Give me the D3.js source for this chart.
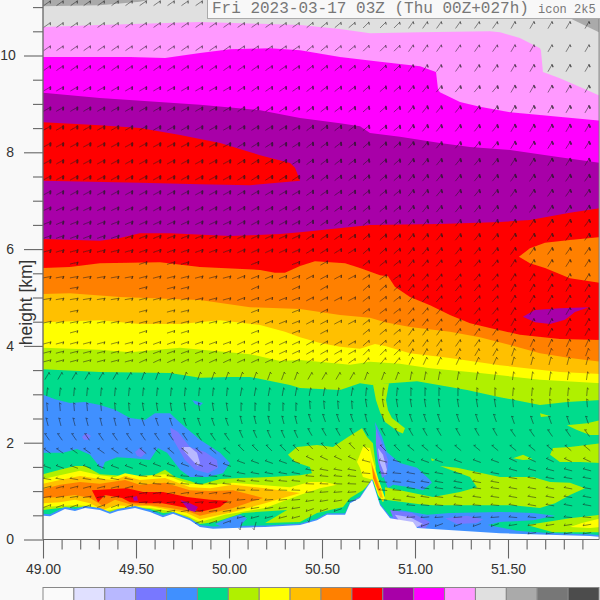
<!DOCTYPE html>
<html>
<head>
<meta charset="utf-8">
<style>
html,body{margin:0;padding:0;background:#f9f9f9;overflow:hidden}
svg{display:block}
</style>
<script src="https://cdn.jsdelivr.net/npm/d3@7"></script>
</head>
<body>
<svg id="chart" width="600" height="600"></svg>
<script>
// ---------- Text ----------
const titleMain = "Fri 2023-03-17 03Z (Thu 00Z+027h)";
const titleModel = "icon 2k5";
const yAxisLabel = "height [km]";

// ---------- Axis ticks ----------
const xMajorTicks = [49, 49.5, 50, 50.5, 51, 51.5];
const xMinorTicks = [49.1,49.2,49.3,49.4,49.6,49.7,49.8,49.9,50.1,50.2,50.3,50.4,50.6,50.7,50.8,50.9,51.1,51.2,51.3,51.4,51.6,51.7,51.8,51.9];
const yMajorTicks = [0, 2, 4, 6, 8, 10];
const yMinorTicks = [0.5,1,1.5,2.5,3,3.5,4.5,5,5.5,6.5,7,7.5,8.5,9,9.5,10.5,11];

// ---------- Colour classes ----------
const levelColors = ["#fafafa","#e0e0ff","#b8b8ff","#7878ff","#4090ff","#00dc8c","#b0f000","#ffff00","#ffc000","#ff8000","#ff0000","#a800a8","#ff00ff","#ff99ff","#e0e0e0","#aaaaaa","#777777","#4c4c4c"];
const cWhite=levelColors[0], cPale=levelColors[1], cLilac=levelColors[2], cPeri=levelColors[3], cBlue=levelColors[4], cGreen=levelColors[5], cLime=levelColors[6], cYellow=levelColors[7], cAmber=levelColors[8], cOrange=levelColors[9], cRed=levelColors[10], cPurple=levelColors[11], cMagenta=levelColors[12], cPink=levelColors[13], cLightGray=levelColors[14], cGray=levelColors[15];

// ---------- Contour boundaries: [longitude, height km]; each class fills from its boundary downward ----------
const lightGrayTop = [[49,11.02],[49.306,11.04],[49.521,11.11],[49.7,11.25],[51.78,11.25],[51.833,10.77],[52,10.46]];
const pinkTop = [[49,10.59],[49.306,10.63],[49.844,10.69],[50.382,10.63],[50.597,10.55],[50.758,10.46],[51.027,10.48],[51.403,10.50],[51.457,10.48],[51.564,10.36],[51.672,10.15],[51.677,10.11],[51.688,9.66],[51.779,9.53],[51.887,9.35],[52,9.16]];
const magentaTop = [[49,9.97],[49.468,9.97],[49.656,9.95],[49.844,10.05],[50.005,10.13],[50.220,10.15],[50.382,10.11],[50.597,9.97],[50.812,9.87],[51.027,9.78],[51.113,9.66],[51.124,9.29],[51.134,9.24],[51.242,9.04],[51.349,8.94],[51.511,8.83],[51.672,8.77],[52,8.65]];
const purpleTop = [[49,9.23],[49.306,9.12],[49.844,8.98],[50.167,8.87],[50.382,8.71],[50.597,8.60],[50.704,8.54],[50.758,8.40],[50.919,8.32],[51.134,8.19],[51.296,8.11],[51.511,8.05],[51.779,7.90],[52,7.78]];
const redTop = [[49,6.21],[49.306,6.17],[49.414,6.23],[49.521,6.33],[49.683,6.33],[50.005,6.27],[50.274,6.31],[50.382,6.35],[50.758,6.50],[51.134,6.52],[51.457,6.56],[51.618,6.60],[51.833,6.75],[52,6.85]];
const orangeTop = [[49,5.61],[49.145,5.63],[49.306,5.71],[49.629,5.73],[49.844,5.63],[50.167,5.57],[50.247,5.51],[50.301,5.51],[50.382,5.65],[50.462,5.75],[50.624,5.71],[50.704,5.61],[50.812,5.46],[50.855,5.44],[50.892,5.22],[50.973,5.01],[51.081,4.84],[51.188,4.64],[51.296,4.47],[51.403,4.37],[51.564,4.23],[51.779,4.14],[52,4.12]];
const amberTop = [[49,5.07],[49.145,5.09],[49.414,5.01],[49.844,4.95],[50.113,4.80],[50.382,4.76],[50.597,4.64],[50.758,4.58],[50.839,4.49],[50.973,4.39],[51.188,4.29],[51.349,4.18],[51.511,4.02],[51.672,3.85],[51.833,3.75],[52,3.67]];
const yellowTop = [[49,4.49],[49.306,4.53],[49.521,4.45],[49.737,4.45],[49.952,4.53],[50.167,4.43],[50.301,4.29],[50.382,4.18],[50.489,4.06],[50.597,3.98],[50.704,3.94],[50.785,4.04],[50.839,4.00],[50.973,3.85],[51.188,3.75],[51.457,3.60],[51.779,3.46],[52,3.42]];
const limeTop = [[49,3.96],[49.306,3.92],[49.468,3.87],[49.737,3.96],[50.113,3.83],[50.274,3.69],[50.382,3.71],[50.651,3.61],[50.758,3.67],[50.919,3.63],[51.081,3.54],[51.349,3.44],[51.672,3.30],[52,3.23]];
const greenTop = [[49,3.52],[49.306,3.46],[49.683,3.44],[49.844,3.34],[50.005,3.36],[50.113,3.36],[50.328,3.19],[50.382,3.13],[50.597,3.09],[50.704,3.23],[50.769,3.19],[50.866,3.23],[51.011,3.27],[51.188,3.15],[51.280,3.09],[51.457,2.94],[51.672,2.78],[51.817,2.84],[52,2.88]];

// ---------- Closed patches: [longitude, height km] ----------
const redUpper = [[49,8.62],[49.306,8.56],[49.521,8.50],[49.737,8.36],[49.952,8.19],[50.167,7.94],[50.328,7.78],[50.355,7.68],[50.382,7.41],[50.113,7.32],[49.844,7.34],[49.521,7.37],[49,7.41]];
const orangeRight = [[51.559,5.84],[51.618,6.02],[51.699,6.13],[51.833,6.19],[52,6.25],[52,5.30],[51.833,5.40],[51.699,5.61],[51.618,5.71]];
const purpleRight = [[51.580,4.60],[51.645,4.74],[51.779,4.78],[51.935,4.80],[51.860,4.70],[51.833,4.62],[51.806,4.54],[51.726,4.45],[51.645,4.49]];
const limeSpur = [[50.774,3.21],[50.790,2.88],[50.812,2.63],[50.839,2.43],[50.909,2.23],[50.935,2.19],[50.946,2.30],[50.876,2.51],[50.855,2.67],[50.844,2.88],[50.860,3.23]];

const blueLeft = [[49,2.99],[49.065,2.90],[49.145,2.82],[49.226,2.84],[49.306,2.78],[49.387,2.68],[49.468,2.51],[49.548,2.47],[49.602,2.61],[49.683,2.61],[49.737,2.41],[49.844,2.06],[49.952,1.79],[50.005,1.58],[49.968,1.37],[49.882,1.29],[49.790,1.29],[49.737,1.44],[49.667,1.79],[49.618,1.89],[49.575,1.64],[49.484,1.68],[49.398,1.70],[49.333,1.60],[49.317,1.44],[49.306,1.50],[49.253,1.75],[49.183,1.87],[49.108,1.79],[49,1.79]];
const blueSpot = [[49.801,2.88],[49.860,2.82],[49.844,2.76],[49.817,2.80]];
const periLeft = [[49.683,2.32],[49.726,2.22],[49.790,1.91],[49.871,1.81],[49.935,1.64],[49.941,1.48],[49.887,1.37],[49.817,1.44],[49.763,1.64],[49.726,1.89],[49.694,2.10]];
const lilacLeft = [[49.747,1.91],[49.790,1.91],[49.828,1.79],[49.844,1.58],[49.833,1.52],[49.801,1.64],[49.763,1.81]];
const periSpotA = [[49.210,2.12],[49.231,2.20],[49.258,2.14],[49.242,2.06],[49.220,2.06]];
const periSpotB = [[49.495,1.81],[49.521,1.89],[49.554,1.79],[49.527,1.70],[49.505,1.73]];

const limeJet = [[49,1.35],[49.091,1.44],[49.172,1.52],[49.226,1.52],[49.306,1.35],[49.387,1.33],[49.468,1.29],[49.575,1.29],[49.656,1.44],[49.710,1.29],[49.790,1.21],[49.844,1.13],[49.952,1.25],[50.059,1.27],[50.220,1.29],[50.382,1.33],[50.446,1.37],[50.435,1.50],[50.355,1.60],[50.317,1.75],[50.366,1.91],[50.473,1.95],[50.559,1.91],[50.640,2.12],[50.715,2.30],[50.742,2.12],[50.774,1.99],[50.790,1.50],[50.769,1.21],[50.720,1.02],[50.651,0.86],[50.613,0.67],[50.473,0.55],[50.382,0.36],[50.194,0.34],[50.312,0.61],[50.075,0.55],[49.925,0.36],[49.844,0.32],[49.774,0.44],[49.699,0.57],[49.645,0.55],[49.575,0.63],[49.468,0.65],[49.387,0.59],[49.323,0.55],[49.253,0.65],[49.172,0.67],[49.091,0.65],[49,0.61]];
const yellowJet = [[49,1.25],[49.091,1.33],[49.199,1.42],[49.306,1.33],[49.387,1.29],[49.441,1.37],[49.521,1.31],[49.656,1.35],[49.726,1.23],[49.790,1.15],[49.898,1.13],[50.022,1.17],[50.328,1.08],[50.435,1.19],[50.516,1.19],[50.581,1.13],[50.489,1.06],[50.382,0.92],[50.194,0.65],[49.978,0.51],[49.844,0.36],[49.774,0.49],[49.683,0.59],[49.575,0.65],[49.468,0.67],[49.387,0.63],[49.323,0.57],[49.253,0.69],[49.172,0.71],[49.091,0.69],[49,0.67]];
const amberJet = [[49,1.15],[49.091,1.23],[49.199,1.31],[49.306,1.25],[49.387,1.23],[49.441,1.31],[49.521,1.23],[49.656,1.27],[49.790,1.08],[49.898,1.06],[50.022,1.13],[50.194,1.06],[50.382,0.96],[50.194,0.75],[50.022,0.57],[49.844,0.42],[49.774,0.55],[49.683,0.61],[49.575,0.69],[49.468,0.69],[49.387,0.71],[49.323,0.61],[49.253,0.75],[49.172,0.82],[49.091,0.77],[49,0.75]];
const orangeJet = [[49,1.04],[49.091,1.13],[49.199,1.19],[49.306,1.15],[49.441,1.23],[49.521,1.13],[49.656,1.17],[49.790,1.02],[49.898,1.00],[50.022,1.02],[50.183,0.86],[50.022,0.65],[49.844,0.49],[49.774,0.59],[49.683,0.65],[49.575,0.71],[49.468,0.73],[49.387,0.82],[49.323,0.69],[49.253,0.86],[49.172,0.92],[49.091,0.88],[49,0.86]];
const redJet = [[49.263,1.02],[49.452,1.06],[49.538,0.98],[49.645,0.98],[49.774,0.88],[49.898,0.82],[49.995,0.80],[49.952,0.67],[49.844,0.57],[49.774,0.65],[49.699,0.71],[49.640,0.75],[49.559,0.75],[49.468,0.77],[49.425,0.86],[49.333,0.92],[49.296,0.77]];
const purpleSpot = [[49.484,0.88],[49.505,0.90],[49.511,0.80],[49.489,0.80]];
const purpleCore = [[49.737,0.82],[49.790,0.75],[49.833,0.67],[49.817,0.57],[49.780,0.61],[49.763,0.71]];
const blueLobe = [[49.925,0.32],[49.995,0.44],[50.059,0.51],[50.097,0.44],[50.059,0.28],[49.978,0.24]];

const yellowRidge = [[50.688,1.60],[50.720,1.91],[50.758,1.89],[50.774,1.64],[50.801,1.27],[50.839,0.86],[50.828,0.77],[50.801,0.92],[50.774,1.23],[50.720,1.29],[50.704,1.48]];
const amberRidge = [[50.758,1.68],[50.774,1.50],[50.812,1.08],[50.828,0.86],[50.812,0.88],[50.785,1.19],[50.769,1.44]];
const orangeRidge = [[50.769,1.54],[50.790,1.27],[50.812,1.02],[50.801,1.02],[50.774,1.27]];

const blueRight = [[50.785,2.43],[50.823,2.12],[50.849,1.81],[50.919,1.58],[51.011,1.48],[51.081,1.23],[51.091,1.17],[51.043,1.02],[50.973,1.08],[50.882,1.13],[50.855,1.06],[50.823,1.37],[50.796,2.06]];
const periRight = [[50.790,2.30],[50.817,2.04],[50.855,1.64],[50.849,1.35],[50.823,1.27],[50.801,1.60],[50.790,1.95]];
const lilacRight = [[50.801,1.89],[50.828,1.75],[50.849,1.44],[50.839,1.33],[50.812,1.58]];
const limeRight = [[50.839,1.08],[50.919,1.02],[51.043,0.92],[51.097,0.88],[51.242,0.98],[51.333,1.08],[51.296,1.29],[51.134,1.52],[51.226,1.48],[51.457,1.29],[51.634,1.29],[51.726,1.19],[51.833,1.17],[51.914,1.06],[51.833,0.92],[51.753,0.75],[51.672,0.65],[51.527,0.71],[51.333,0.71],[51.097,0.71],[51.027,0.73],[50.839,0.82]];
const limePatchA = [[51.672,2.61],[51.726,2.55],[51.677,2.53]];
const limePatchB = [[51.527,1.68],[51.581,1.75],[51.634,1.66],[51.581,1.64]];
const limePatchC = [[51.817,2.36],[51.925,2.40],[52,2.47],[52,2.16],[51.941,2.16],[51.871,2.26]];
const limePatchD = [[51.726,1.75],[51.742,1.89],[51.833,1.91],[52,1.99],[52,1.58],[51.887,1.60],[51.779,1.60]];
const limePatchE = [[51.086,1.68],[51.108,1.64],[51.091,1.62]];
const blueLow = [[50.919,0.61],[51.065,0.51],[51.188,0.55],[51.457,0.57],[51.634,0.55],[51.753,0.49],[51.634,0.40],[51.457,0.36],[51.392,0.30],[51.548,0.18],[51.779,0.11],[52,0.09],[52,-0.01],[50.919,-0.01]];
const periLow = [[51.161,0.44],[51.280,0.49],[51.366,0.42],[51.333,0.34],[51.226,0.32]];
const periGround = [[50.866,0.61],[50.984,0.55],[51.081,0.36],[51.054,0.22],[50.892,0.36]];
const lilacGround = [[50.892,0.51],[50.973,0.46],[51.043,0.32],[51.011,0.26],[50.919,0.36]];
const limeLow = [[51.602,0.30],[51.672,0.34],[51.833,0.44],[52,0.51],[52,0.15],[51.817,0.15],[51.742,0.15]];
const yellowLow = [[51.833,0.26],[51.898,0.34],[52,0.44],[52,0.26],[51.941,0.24]];

const blueFringeTop = [[49,0.53],[49.038,0.52],[49.118,0.67],[49.172,0.63],[49.226,0.69],[49.306,0.65],[49.360,0.57],[49.403,0.63],[49.495,0.69],[49.575,0.61],[49.645,0.50],[49.699,0.57],[49.790,0.44],[49.844,0.30],[49.914,0.27],[50.022,0.28],[50.194,0.29],[50.382,0.33],[50.473,0.43],[50.527,0.54],[50.624,0.54],[50.651,0.78],[50.704,0.89],[50.769,1.25],[50.812,0.74],[50.866,0.48],[50.989,0.40],[51.011,0.28],[51.457,0.17],[51.941,0.11],[52,0.09]];
const terrainTop = [[49,0.49],[49.038,0.48],[49.118,0.63],[49.172,0.59],[49.226,0.65],[49.306,0.61],[49.360,0.53],[49.403,0.59],[49.495,0.65],[49.575,0.57],[49.645,0.46],[49.699,0.53],[49.790,0.40],[49.844,0.26],[49.914,0.22],[50.022,0.24],[50.194,0.26],[50.382,0.30],[50.473,0.40],[50.527,0.51],[50.624,0.51],[50.651,0.75],[50.704,0.86],[50.769,1.23],[50.812,0.71],[50.866,0.44],[50.989,0.36],[51.011,0.24],[51.457,0.13],[51.941,0.07],[52,0.05]];

// ---------- Wind barbs ----------
const barbLons = [49.022,49.091,49.167,49.237,49.312,49.387,49.462,49.538,49.613,49.688,49.763,49.839,49.914,49.989,50.065,50.140,50.215,50.290,50.360,50.435,50.511,50.586,50.661,50.737,50.828,50.903,50.978,51.054,51.129,51.231,51.333,51.430,51.527,51.629,51.726,51.823,51.925];
// longitude zones that the direction and height tables below are read by
const zoneEdges = [49,49.5,50,50.4,50.72,50.95,51.5];
const upperRowHeights = [11.08,10.63,10.15,9.74,9.31,8.89,8.50,8.15,7.80,7.47,7.16,6.83,6.54,6.25,5.96,5.71,5.42,5.20,4.97,4.72,4.49,4.29,4.06,3.87,3.69,3.38,3.05];
const upperRowSpeeds = [20,18,18,26,32,36,38,38,38,38,36,36,36,35,32,26,24,24,22,20,20,18,18,16,14,12,10];
const upperRowDirs = [
 [35,35,35,40,45,55,60],[35,35,35,40,45,55,60],[35,35,35,40,45,55,60],[35,35,35,40,45,55,60],
 [30,30,35,38,42,50,60],[30,30,35,38,42,52,60],[30,30,32,38,40,52,60],[28,28,32,38,42,50,58],
 [28,28,32,38,42,50,58],[28,28,32,38,42,50,55],[28,28,30,35,40,50,55],[25,28,30,35,40,50,55],
 [22,25,28,35,40,50,55],[20,22,25,35,42,50,55],[15,20,25,32,42,50,55],[12,18,22,30,40,50,58],
 [10,15,22,28,35,50,58],[10,15,25,30,42,50,60],[10,15,22,28,38,48,60],[12,15,22,28,38,50,60],
 [12,15,22,28,38,52,62],[15,18,22,28,40,55,62],[15,20,25,30,42,55,65],[15,20,25,30,45,60,70],
 [15,25,25,35,50,65,75],[60,70,70,60,70,80,82],[85,85,80,80,85,90,85]];
// rows that hold only a few barbs west of the ridge
const sparseRowHeights = [5.71,5.20,4.72,4.29];
const sparseRowLons = [49.167,49.538,49.688,49.763,50.140,50.360,50.511];
// terrain-following rows: height per zone (null = below ground)
const lowerRowHeights = [
 [2.74,2.74,2.74,2.78,2.82,2.82,2.82],
 [2.43,2.43,2.47,2.51,2.51,2.51,2.47],
 [2.12,2.12,2.18,2.22,2.22,2.22,2.20],
 [1.83,1.83,1.89,1.93,1.89,1.89,1.89],
 [1.50,1.54,1.60,1.68,1.62,1.62,1.64],
 [1.25,1.31,1.37,1.44,1.37,1.37,1.44],
 [1.08,1.15,1.21,1.31,1.19,1.19,1.27],
 [0.88,0.96,1.02,1.15,1.02,1.06,1.06],
 [0.69,0.77,0.82,0.98,0.82,0.88,0.88],
 [null,0.59,0.65,0.80,0.61,0.71,0.71],
 [null,0.36,0.46,0.61,0.40,0.46,0.46],
 [null,null,0.28,0.44,0.20,0.30,0.30],
 [null,null,null,null,null,0.13,0.13]];
const lowerRowDirs = [
 [95,100,90,95,100,100,95],[105,110,105,110,105,110,110],[125,125,115,120,120,120,125],
 [145,140,135,135,135,140,140],[160,160,160,155,165,160,155],[170,175,170,170,175,170,165],
 [15,175,175,175,175,170,170],[10,10,178,178,175,172,170],[20,5,185,185,175,172,170],
 [30,10,190,190,185,175,170],[30,20,195,200,195,185,175],[30,20,255,255,195,200,190],[30,20,255,255,195,200,190]];
const lowerRowSpeed = 10;

// ---------- Scales ----------
const x = d3.scaleLinear().domain([49, 52]).range([43, 601]);
const y = d3.scaleLinear().domain([0, 10]).range([539.5, 55.5]);
const plotRight = x(51.99), plotBottom = y(0);
const flagLen = d3.scaleLinear().domain([10, 40]).range([1.8, 2.6]);
const flagWidth = d3.scaleLinear().domain([10, 40]).range([0.7, 2.0]);
const legendX = d3.scaleBand().domain(d3.range(levelColors.length)).range([43, 599]);
const terrainAt = d3.scaleLinear().domain(terrainTop.map(d => d[0])).range(terrainTop.map(d => d[1]));

const svg = d3.select("#chart");
const defs = svg.append("defs");
defs.append("clipPath").attr("id", "plotClip").append("rect")
  .attr("x", x(49)).attr("y", 0).attr("width", plotRight - x(49)).attr("height", plotBottom);
defs.append("filter").attr("id", "soft").attr("x", "-2%").attr("y", "-2%").attr("width", "104%").attr("height", "104%")
  .append("feGaussianBlur").attr("stdDeviation", 0.6);

svg.append("rect").attr("width", 600).attr("height", 600).attr("fill", "#f9f9f9");

const plot = svg.append("g").attr("clip-path", "url(#plotClip)");
const field = plot.append("g").attr("filter", "url(#soft)");

const areaBelow = d3.area().x(d => x(d[0])).y1(d => y(d[1])).y0(plotBottom + 2);
const polygon = d3.line().x(d => x(d[0])).y(d => y(d[1]));

function fillBelow(points, color){ field.append("path").attr("d", areaBelow(points)).attr("fill", color); }
function fillPatch(points, color){ field.append("path").attr("d", polygon(points) + "Z").attr("fill", color); }

// stacked classes, top of the plot downward
field.append("rect").attr("x", x(49)).attr("y", 0).attr("width", plotRight - x(49)).attr("height", plotBottom).attr("fill", cGray);
[[lightGrayTop,cLightGray],[pinkTop,cPink],[magentaTop,cMagenta],[purpleTop,cPurple]].forEach(d => fillBelow(d[0], d[1]));
fillPatch(redUpper, cRed);
[[redTop,cRed],[orangeTop,cOrange]].forEach(d => fillBelow(d[0], d[1]));
fillPatch(orangeRight, cOrange);
fillPatch(purpleRight, cPurple);
[[amberTop,cAmber],[yellowTop,cYellow],[limeTop,cLime],[greenTop,cGreen]].forEach(d => fillBelow(d[0], d[1]));
fillPatch(limeSpur, cLime);

// patches inside the lower green
[[blueLeft,cBlue],[blueSpot,cBlue],[periLeft,cPeri],[lilacLeft,cLilac],[periSpotA,cPeri],[periSpotB,cPeri],
 [limeJet,cLime],[yellowJet,cYellow],[amberJet,cAmber],[orangeJet,cOrange],[redJet,cRed],[purpleSpot,cPurple],[purpleCore,cPurple],
 [blueLobe,cBlue],[yellowRidge,cYellow],[amberRidge,cAmber],[orangeRidge,cOrange],
 [blueRight,cBlue],[periRight,cPeri],[lilacRight,cLilac],[limeRight,cLime],
 [limePatchA,cLime],[limePatchB,cLime],[limePatchC,cLime],[limePatchD,cLime],[limePatchE,cLime],
 [blueLow,cBlue],[periLow,cPeri],[limeLow,cLime],[yellowLow,cYellow]
].forEach(d => fillPatch(d[0], d[1]));

fillBelow(blueFringeTop, cBlue);
fillPatch(periGround, cPeri);
fillPatch(lilacGround, cLilac);
fillBelow(terrainTop, cWhite);

// ---------- Barbs ----------
function zoneOf(lon){ return d3.bisectRight(zoneEdges, lon) - 1; }
const barbs = [];
upperRowHeights.forEach((h, r) => {
  barbLons.forEach(lon => {
    if (sparseRowHeights.includes(h) && lon < 50.72 && !sparseRowLons.includes(lon)) return;
    barbs.push({lon, km: h, dir: upperRowDirs[r][zoneOf(lon)], speed: upperRowSpeeds[r]});
  });
});
lowerRowHeights.forEach((row, r) => {
  barbLons.forEach(lon => {
    const z = zoneOf(lon), h = row[z];
    if (h === null || h < terrainAt(lon) + 0.02) return;
    barbs.push({lon, km: h, dir: lowerRowDirs[r][z], speed: lowerRowSpeed});
  });
});

const barbG = field.append("g").attr("stroke", "#1a1a1a").attr("fill", "none").attr("stroke-linecap", "round").attr("opacity", 0.72);
barbs.forEach(b => {
  const a = b.dir * Math.PI / 180, cx = x(b.lon), cy = y(b.km);
  const dx = Math.cos(a), dy = -Math.sin(a);
  const tipX = cx + 3.8 * dx, tipY = cy + 3.8 * dy;
  barbG.append("line").attr("x1", cx - 3.8 * dx).attr("y1", cy - 3.8 * dy).attr("x2", tipX).attr("y2", tipY).attr("stroke-width", 0.7);
  const len = flagLen(b.speed);
  barbG.append("line").attr("x1", tipX).attr("y1", tipY)
    .attr("x2", tipX - 0.5 * len * dx + len * 0.8 * (-dy))
    .attr("y2", tipY - 0.5 * len * dy + len * 0.8 * dx)
    .attr("stroke-width", flagWidth(b.speed));
});

// ---------- Frame and axes ----------
const axisColor = "#666";
const frame = svg.append("g").attr("stroke", "#777").attr("fill", "none");
frame.append("line").attr("x1", plotRight).attr("x2", plotRight).attr("y1", 0).attr("y2", plotBottom);
frame.append("line").attr("x1", x(49)).attr("x2", plotRight).attr("y1", plotBottom).attr("y2", plotBottom);

const xMajor = d3.axisBottom(x).tickValues(xMajorTicks).tickFormat(d3.format(".2f")).tickSize(19).tickPadding(6);
const xMinor = d3.axisBottom(x).tickValues(xMinorTicks).tickFormat("").tickSize(10);
const yMajor = d3.axisLeft(y).tickValues(yMajorTicks).tickFormat(d3.format("d")).tickSize(19).tickPadding(10);
const yMinor = d3.axisLeft(y).tickValues(yMinorTicks).tickFormat("").tickSize(10);

[[xMinor,"bottom"],[xMajor,"bottom"],[yMinor,"left"],[yMajor,"left"]].forEach(([ax, side]) => {
  const g = svg.append("g").attr("transform", side === "bottom" ? `translate(0,${plotBottom})` : `translate(${x(49)},0)`).call(ax);
  g.select(".domain").remove();
  g.selectAll("line").attr("stroke", axisColor).attr("stroke-width", 1.1);
  g.selectAll("text").attr("font-family", "Liberation Sans").attr("font-size", 14).attr("fill", "#333");
  // the two-digit label sits just inside the window edge
  g.selectAll("text").filter(d => d === 10).attr("dx", 1.8);
});
svg.append("line").attr("x1", x(49)).attr("x2", x(49)).attr("y1", 0).attr("y2", plotBottom).attr("stroke", axisColor).attr("stroke-width", 1.3);
svg.append("line").attr("x1", x(49)).attr("x2", plotRight).attr("y1", plotBottom).attr("y2", plotBottom).attr("stroke", axisColor).attr("stroke-width", 1.1);

svg.append("text").attr("transform", `translate(32,${y(4.9)}) rotate(-90)`).attr("text-anchor", "middle")
  .attr("font-family", "Liberation Sans").attr("font-size", 17.5).attr("fill", "#333").text(yAxisLabel);

// ---------- Title box ----------
svg.append("rect").attr("x", 207.5).attr("y", -2).attr("width", 400).attr("height", 20.5)
  .attr("fill", "#f8f8f8").attr("stroke", "#aaa");
svg.append("text").attr("x", 212).attr("y", 13).attr("font-family", "Liberation Mono").attr("font-size", 16).attr("fill", "#777").text(titleMain);
svg.append("text").attr("x", 538).attr("y", 13).attr("font-family", "Liberation Mono").attr("font-size", 12).attr("fill", "#777").text(titleModel);

// ---------- Colour bar ----------
svg.append("g").selectAll("rect").data(levelColors).join("rect")
  .attr("x", (d, i) => legendX(i)).attr("y", 587.5)
  .attr("width", legendX.bandwidth()).attr("height", 20)
  .attr("fill", d => d).attr("stroke", "#888").attr("stroke-width", 1);
</script>
</body>
</html>
